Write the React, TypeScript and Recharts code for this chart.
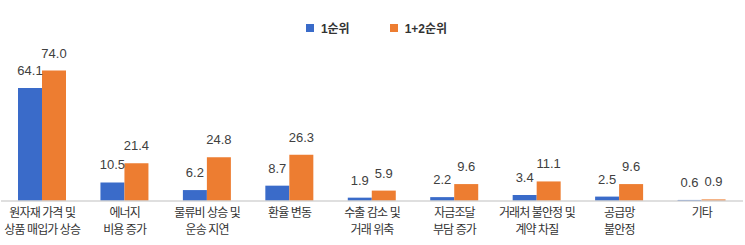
import { Bar, BarChart, LabelList, XAxis, YAxis } from "recharts";

const categories = [
  "원자재 가격 및\n상품 매입가 상승",
  "에너지\n비용 증가",
  "물류비 상승 및\n운송 지연",
  "환율 변동",
  "수출 감소 및\n거래 위축",
  "자금조달\n부담 증가",
  "거래처 불안정 및\n계약 차질",
  "공급망\n불안정",
  "기타",
];
const rank1 = [64.1, 10.5, 6.2, 8.7, 1.9, 2.2, 3.4, 2.5, 0.6];
const rank12 = [74.0, 21.4, 24.8, 26.3, 5.9, 9.6, 11.1, 9.6, 0.9];
const seriesNames = ["1순위", "1+2순위"];
const seriesColors = ["#3A6BC9", "#ED7D31"];

const data = categories.map((c, i) => ({ name: c, r1: rank1[i], r12: rank12[i] }));

const FONT = "'Liberation Sans', 'Noto Sans CJK KR', Arial, sans-serif";

function CategoryTick(props: any) {
  const { x, y, payload } = props;
  const lines = String(payload.value).split("\n");
  return (
    <text
      x={x}
      y={y}
      textAnchor="middle"
      fontSize={12}
      letterSpacing={-0.9}
      fill="#333"
      fontFamily={FONT}
    >
      {lines.map((l, i) => (
        <tspan key={i} x={x} dy={i === 0 ? 8 : 17}>
          {l}
        </tspan>
      ))}
    </text>
  );
}

const fmt = (v: number) => v.toFixed(1);

export default function App() {
  return (
    <div style={{ position: "absolute", left: 0, top: 0, width: 745, height: 245, background: "#fff" }}>
      <div
        style={{
          position: "absolute",
          top: 19,
          left: 4,
          width: 745,
          display: "flex",
          justifyContent: "center",
          gap: 40,
          fontFamily: FONT,
          fontSize: 12,
          fontWeight: 600,
          color: "#333",
          zIndex: 1,
        }}
      >
        {seriesNames.map((n, i) => (
          <div key={n} style={{ display: "flex", alignItems: "center", gap: 7 }}>
            <span style={{ width: 8, height: 8, background: seriesColors[i], display: "inline-block" }} />
            <span>{n}</span>
          </div>
        ))}
      </div>
      <BarChart
        width={745}
        height={245}
        data={data}
        margin={{ top: 60, right: 2, left: 1, bottom: 0 }}
        barGap={0}
        barSize={24}
      >
        <XAxis
          dataKey="name"
          height={44}
          tickLine={false}
          axisLine={{ stroke: "#D4D4D4", strokeWidth: 1.5 }}
          interval={0}
          tick={<CategoryTick />}
        />
        <YAxis hide domain={[0, 80]} />
        <Bar dataKey="r1" name={seriesNames[0]} fill={seriesColors[0]} isAnimationActive={false}>
          <LabelList
            dataKey="r1"
            position="top"
            offset={13}
            formatter={(v: number) => fmt(v)}
            style={{ fill: "#404040", fontSize: 13, fontFamily: FONT }}
          />
        </Bar>
        <Bar dataKey="r12" name={seriesNames[1]} fill={seriesColors[1]} isAnimationActive={false}>
          <LabelList
            dataKey="r12"
            position="top"
            offset={13}
            formatter={(v: number) => fmt(v)}
            style={{ fill: "#404040", fontSize: 13, fontFamily: FONT }}
          />
        </Bar>
      </BarChart>
    </div>
  );
}
